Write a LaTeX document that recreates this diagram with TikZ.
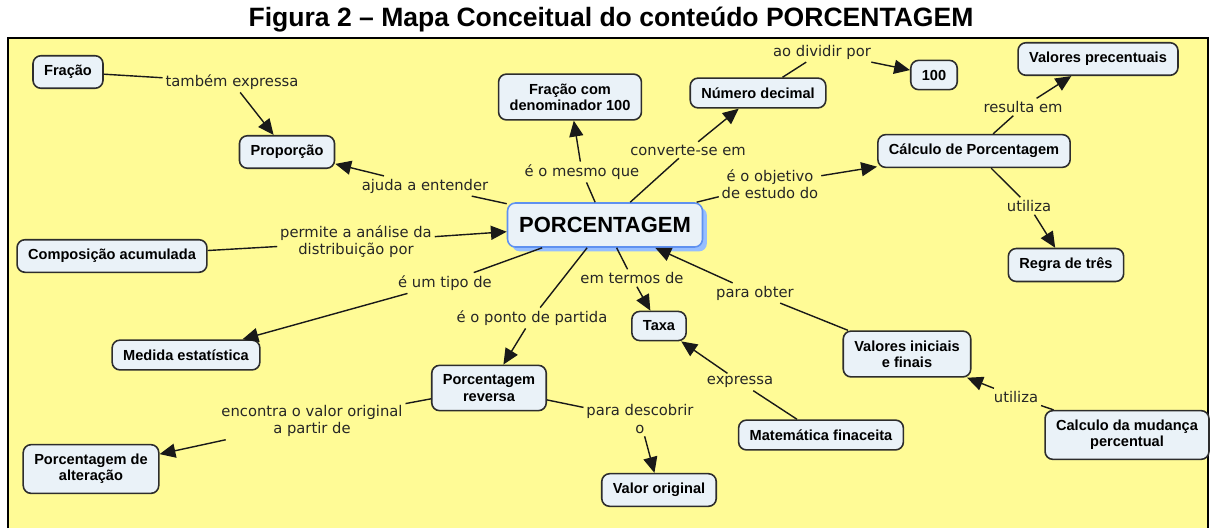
\documentclass[tikz,border=0pt]{standalone}
\usepackage{fontspec}
\setmainfont{Liberation Sans}
\newfontfamily\labelfont{DejaVu Sans}
\usetikzlibrary{arrows.meta,shadows}

\definecolor{mapyellow}{RGB}{255,251,150}
\definecolor{conceptfill}{RGB}{234,242,248}
\definecolor{conceptline}{RGB}{45,45,45}
\definecolor{mainline}{RGB}{95,145,240}
\definecolor{mainshadow}{RGB}{150,190,255}

\begin{document}
\begin{tikzpicture}[x=0.02cm, y=-0.02cm,
        concept/.style={draw=conceptline, line width=0.9pt, fill=conceptfill, rounded corners=4.5pt,
            align=center, font=\fontsize{8.3}{9.2}\selectfont\bfseries, inner xsep=6.3pt, inner ysep=5.4pt},
        linkword/.style={font=\labelfont\fontsize{8.4}{9.8}\selectfont, text=black!85, align=center, inner sep=1.5pt},
        link/.style={draw=black!90, line width=0.8pt},
        linkto/.style={link, -{Triangle[length=9pt,width=8pt]}}]
        \useasboundingbox (0,0) rectangle (1213,528);
        \fill[white] (0,0) rectangle (1213,528);
        \fill[mapyellow] (8,38) rectangle (1208,528);
        \draw[line width=1.2pt] (8,528) |- (1208,38) -- (1208,528);
        \node (title) at (611,20) {\fontsize{15.1}{16}\selectfont\bfseries Figura 2 – Mapa Conceitual do conteúdo PORCENTAGEM};

        % conceitos
        \node[concept, draw=mainline, font=\fontsize{12.5}{14}\selectfont\bfseries, minimum width=3.9cm, minimum height=0.88cm,
            drop shadow={shadow xshift=2.5pt, shadow yshift=-2.5pt, fill=mainshadow, opacity=1}] (porc) at (605,225) {PORCENTAGEM};
        \node[concept] (fracao) at (68,72) {Fração};
        \node[concept] (proporcao) at (287,152) {Proporção};
        \node[concept] (fracdem) at (570,97) {Fração com\\denominador 100};
        \node[concept] (decimal) at (758,93) {Número decimal};
        \node[concept] (cem) at (934,75) {100};
        \node[concept] (valperc) at (1098,59) {Valores precentuais};
        \node[concept] (calculo) at (974,151) {Cálculo de Porcentagem};
        \node[concept] (regra) at (1066,265) {Regra de três};
        \node[concept] (composicao) at (112,256) {Composição acumulada};
        \node[concept] (medida) at (186,355) {Medida estatística};
        \node[concept] (taxa) at (659,326) {Taxa};
        \node[concept] (valini) at (907,354) {Valores iniciais\\e finais};
        \node[concept] (reversa) at (489,388) {Porcentagem\\reversa};
        \node[concept] (matfin) at (821,435) {Matemática finaceita};
        \node[concept] (mudanca) at (1127,435) {Calculo da mudança\\percentual};
        \node[concept] (alteracao) at (91,469) {Porcentagem de\\alteração};
        \node[concept] (valorig) at (659,490) {Valor original};

        % frases de ligacao
        \node[linkword] (tambem) at (232,82) {também expressa};
        \node[linkword] (ajuda) at (425,186) {ajuda a entender};
        \node[linkword] (mesmo) at (582,172) {é o mesmo que};
        \node[linkword] (converte) at (688,150) {converte-se em};
        \node[linkword] (dividir) at (822,52) {ao dividir por};
        \node[linkword] (objetivo) at (770,184) {é o objetivo\\de estudo do};
        \node[linkword] (resulta) at (1023,107) {resulta em};
        \node[linkword] (utiliza) at (1029,206) {utiliza};
        \node[linkword] (permite) at (356,242) {permite a análise da\\distribuição por};
        \node[linkword] (tipo) at (445,283) {é um tipo de};
        \node[linkword] (ponto) at (532,318) {é o ponto de partida};
        \node[linkword] (termos) at (632,278) {em termos de};
        \node[linkword] (obter) at (755,293) {para obter};
        \node[linkword] (expressa) at (740,382) {expressa};
        \node[linkword] (utiliza2) at (1016,397) {utiliza};
        \node[linkword] (encontra) at (312,421) {encontra o valor original\\a partir de};
        \node[linkword] (descobrir) at (640,419) {para descobrir\\o};

        % ligacoes
        \draw[link] (fracao) -- (tambem);
        \draw[linkto] (tambem) -- (proporcao);
        \draw[link] (porc) -- (ajuda);
        \draw[linkto] (ajuda) -- (proporcao);
        \draw[link] (porc) -- (mesmo);
        \draw[linkto] (mesmo) -- (fracdem);
        \draw[link] (porc) -- (converte);
        \draw[linkto] (converte) -- (decimal);
        \draw[link] (decimal) -- (dividir);
        \draw[linkto] (dividir) -- (cem);
        \draw[link] (porc) -- (objetivo);
        \draw[linkto] (objetivo) -- (calculo);
        \draw[link] (calculo) -- (resulta);
        \draw[linkto] (resulta) -- (valperc);
        \draw[link] (calculo) -- (utiliza);
        \draw[linkto] (utiliza) -- (regra);
        \draw[link] (composicao) -- (permite);
        \draw[linkto] (permite) -- (porc);
        \draw[link] (porc) -- (tipo);
        \draw[linkto] (tipo) -- (medida);
        \draw[link] (porc) -- (ponto);
        \draw[linkto] (ponto) -- (reversa);
        \draw[link] (porc) -- (termos);
        \draw[linkto] (termos) -- (taxa);
        \draw[link] (valini) -- (obter);
        \draw[linkto] (obter) -- (porc);
        \draw[link] (matfin) -- (expressa);
        \draw[linkto] (expressa) -- (taxa);
        \draw[link] (mudanca) -- (utiliza2);
        \draw[linkto] (utiliza2) -- (valini);
        \draw[link] (reversa) -- (encontra);
        \draw[linkto] (encontra) -- (alteracao);
        \draw[link] (reversa) -- (descobrir);
        \draw[linkto] (descobrir) -- (valorig);
\end{tikzpicture}
\end{document}
